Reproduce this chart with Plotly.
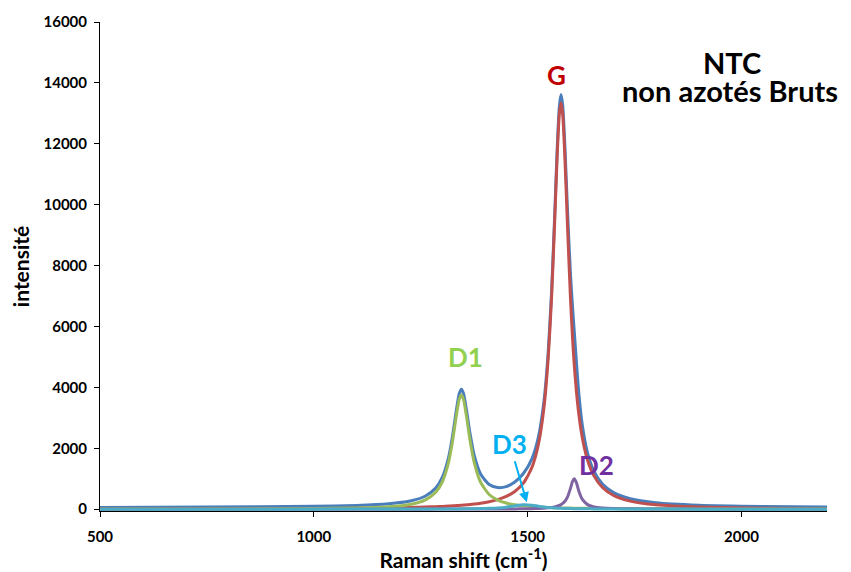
import plotly.graph_objects as go

# Raman shift (cm-1)
shift = [500, 750, 1000, 1100, 1175, 1225, 1260, 1285, 1300, 1315,
         1325, 1333, 1340, 1345, 1350, 1357, 1365, 1375, 1390, 1410,
         1430, 1450, 1470, 1490, 1510, 1525, 1538, 1548, 1556, 1563,
         1569, 1574, 1578, 1582, 1587, 1593, 1600, 1605, 1609, 1614,
         1620, 1628, 1640, 1655, 1675, 1700, 1740, 1800, 1900, 2050, 2200]

# total fitted spectrum (blue)
total = [59, 68, 92, 122, 176, 267, 424, 693, 1033, 1697,
         2456, 3225, 3791, 3941, 3803, 3255, 2506, 1774, 1154, 810,
         710, 742, 890, 1171, 1653, 2356, 3531, 5146, 7175, 9578,
         11803, 13204, 13621, 13264, 11950, 9873, 7752, 6629, 5840, 4838,
         3757, 2742, 1852, 1250, 826, 552, 343, 210, 129, 88, 72]

# G band (red)
band_g = [6, 10, 21, 31, 43, 56, 70, 82, 91, 101,
          109, 117, 124, 129, 134, 143, 154, 169, 197, 246,
          315, 418, 579, 854, 1371, 2116, 3317, 4943, 6971, 9366,
          11578, 12958, 13350, 12958, 11578, 9366, 6971, 5614, 4740, 3870,
          3080, 2332, 1615, 1093, 711, 458, 264, 142, 68, 32, 18]

# D1 band (green)
band_d1 = [3, 7, 20, 39, 79, 156, 299, 555, 884, 1537,
           2287, 3048, 3606, 3750, 3606, 3048, 2287, 1537, 884, 483,
           299, 201, 144, 108, 84, 71, 62, 56, 52, 49,
           46, 44, 43, 41, 40, 38, 36, 34, 33, 32,
           31, 29, 27, 24, 21, 19, 15, 11, 8, 5, 3]

# D2 band (purple)
band_d2 = [0, 0, 0, 1, 1, 1, 1, 2, 2, 2,
           2, 2, 2, 2, 3, 3, 3, 3, 4, 4,
           5, 7, 9, 12, 17, 23, 32, 43, 57, 74,
           96, 121, 150, 188, 259, 398, 676, 914, 1000, 871,
           583, 319, 150, 74, 37, 20, 10, 5, 2, 1, 0]

# D3 band (cyan)
band_d3 = [0, 0, 1, 2, 2, 3, 4, 5, 6, 7,
           8, 9, 9, 10, 11, 12, 13, 15, 19, 27,
           41, 66, 108, 148, 132, 96, 70, 54, 45, 39,
           34, 31, 28, 26, 24, 21, 19, 18, 16, 15,
           14, 12, 11, 9, 7, 6, 4, 3, 1, 1, 0]

x_ticks = [500, 1000, 1500, 2000]
y_ticks = [0, 2000, 4000, 6000, 8000, 10000, 12000, 14000, 16000]

FONT = "Lato"

fig = go.Figure()
series = [
    ("total", total, "#4A7EBB"),
    ("G", band_g, "#C0504D"),
    ("D1", band_d1, "#9BBB59"),
    ("D2", band_d2, "#8064A2"),
    ("D3", band_d3, "#4BACC6"),
]
for name, vals, col in series:
    fig.add_trace(go.Scatter(x=shift, y=vals, mode="lines", name=name,
                             line=dict(color=col, width=3, shape="spline", smoothing=0.6),
                             showlegend=False, hoverinfo="x+y"))

labels = [
    ("G", 1568, 14250, "#C00000"),
    ("D1", 1355, 5000, "#92D050"),
    ("D2", 1661, 1450, "#7030A0"),
]
for txt, lx, ly, col in labels:
    fig.add_annotation(x=lx, y=ly, text=txt, showarrow=False,
                       font=dict(family=FONT, size=26, color=col, weight="bold"))

# D3 label with arrow pointing to its band
fig.add_annotation(x=1498, y=230, ax=1458, ay=2150, axref="x", ayref="y",
                   text="D3", showarrow=True, arrowhead=2, arrowsize=1,
                   arrowwidth=2, arrowcolor="#00B0F0",
                   font=dict(family=FONT, size=26, color="#00B0F0", weight="bold"))

fig.add_annotation(x=1979, y=14700, text="NTC", showarrow=False, height=30,
                   font=dict(family=FONT, size=29, color="black", weight="bold"))
fig.add_annotation(x=1974, y=13760, text="non azotés Bruts", showarrow=False, height=30,
                   font=dict(family=FONT, size=29, color="black", weight="bold"))

# page body adds an 8px offset, so the figure is sized/margined to compensate
fig.update_layout(
    width=843, height=564,
    margin=dict(l=92, r=24, t=14, b=61),
    paper_bgcolor="white", plot_bgcolor="white",
    font=dict(family=FONT, color="black"),
)
fig.update_xaxes(range=[500, 2200], tickvals=x_ticks,
                 ticktext=[str(v) for v in x_ticks],
                 showgrid=False, zeroline=False, showline=True,
                 linecolor="black", linewidth=1, automargin=False,
                 ticks="outside", ticklen=5, tickcolor="black",
                 ticklabelstandoff=7,
                 tickfont=dict(family=FONT, size=15, color="black", weight="bold"),
                 title=dict(text="Raman shift (cm<sup>-1</sup>)", standoff=6,
                            font=dict(family=FONT, size=21, color="black", weight="bold")))
fig.update_yaxes(range=[-60, 16000], tickvals=y_ticks,
                 ticktext=[str(v) for v in y_ticks],
                 showgrid=False, zeroline=False, showline=True,
                 linecolor="black", linewidth=1, automargin=False,
                 ticks="outside", ticklen=5, tickcolor="black",
                 ticklabelstandoff=4,
                 tickfont=dict(family=FONT, size=15, color="black", weight="bold"),
                 title=dict(text="intensité", standoff=17,
                            font=dict(family=FONT, size=21, color="black", weight="bold")))

fig.write_html("out.html")
